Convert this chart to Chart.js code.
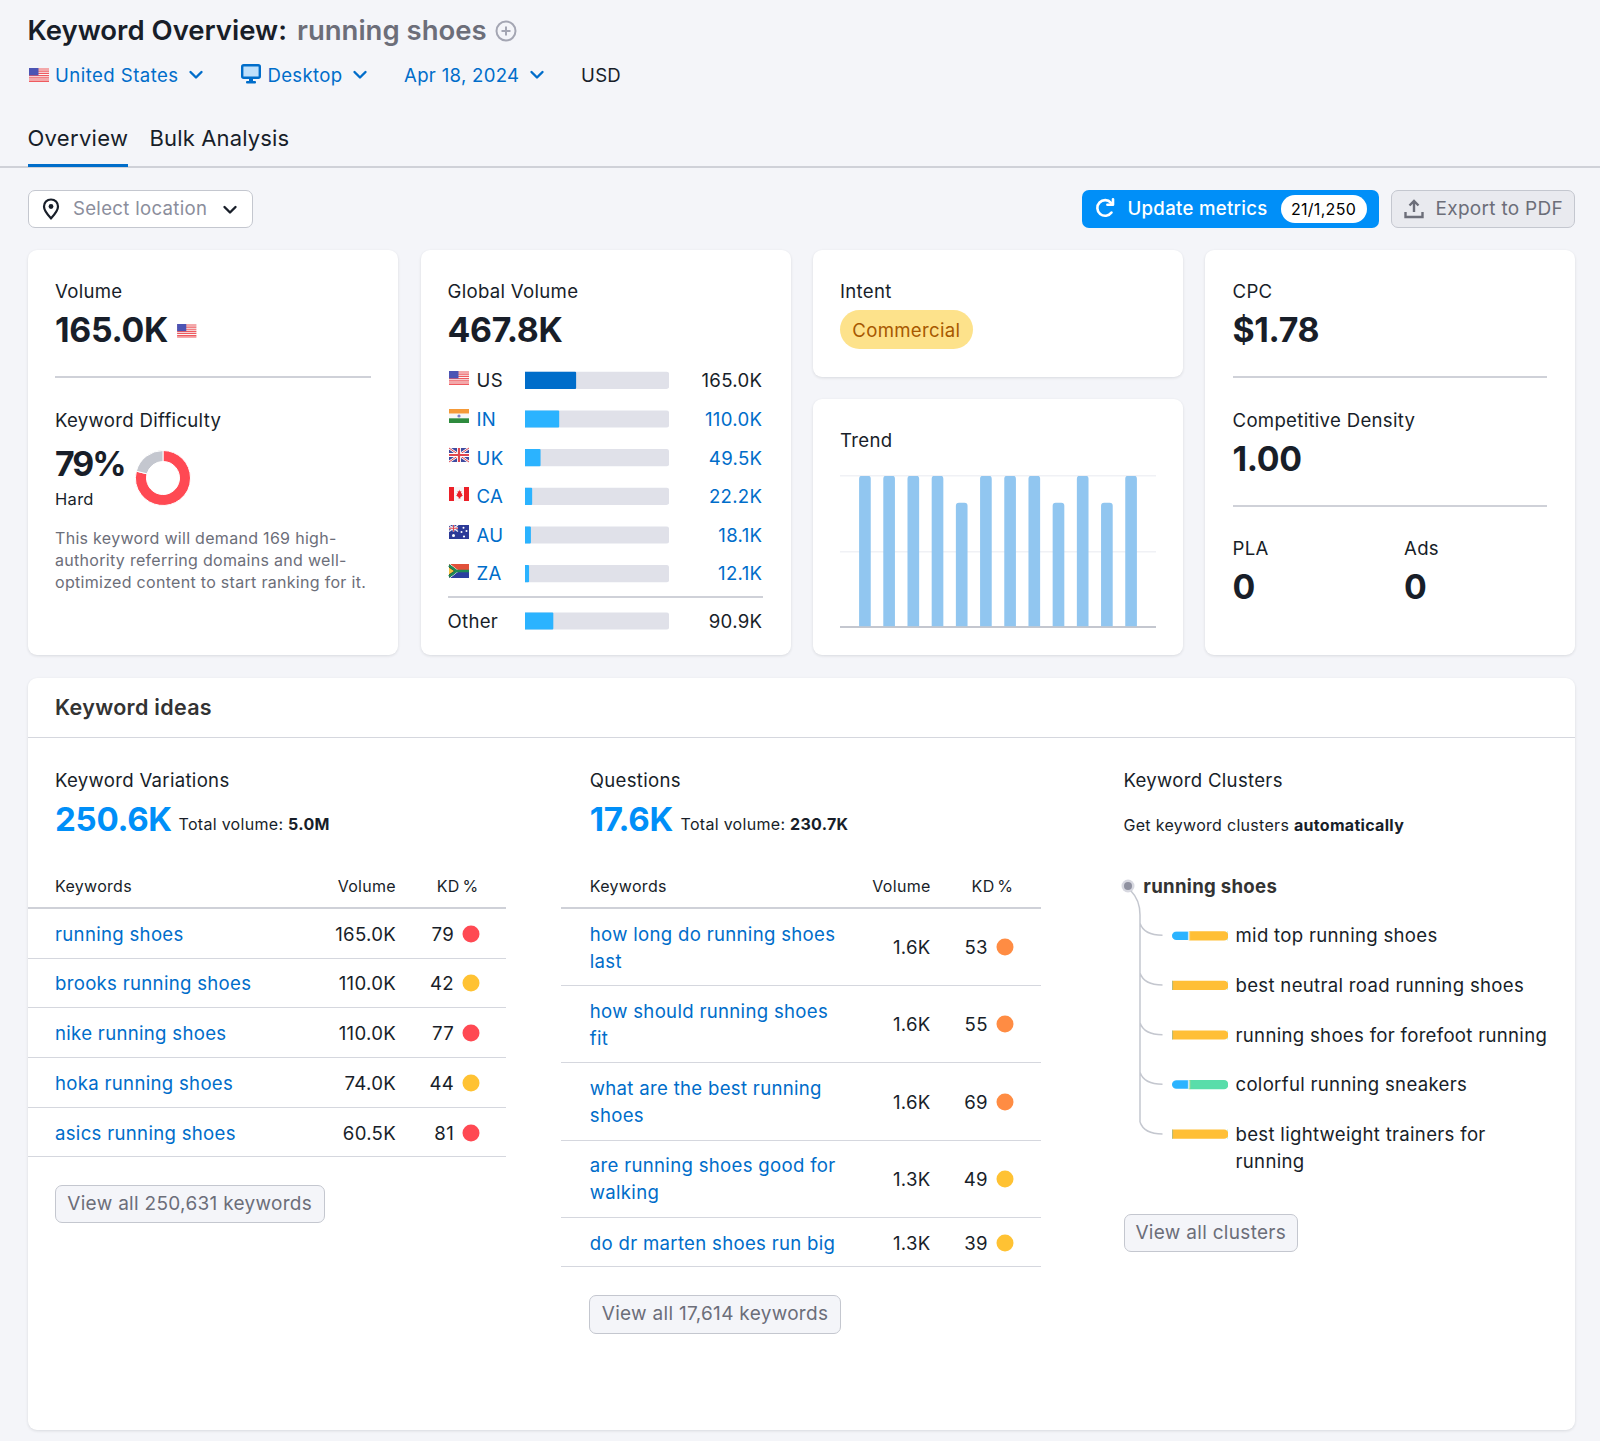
<!DOCTYPE html>
<html>
<head>
<meta charset="utf-8">
<title>Keyword Overview</title>
<script src="https://cdn.jsdelivr.net/npm/chart.js@4/dist/chart.umd.min.js"></script>
<style>
  html, body { margin: 0; padding: 0; }
  body {
    position: relative; width: 1600px; height: 1441px; overflow: hidden;
    background: #f4f5f9; color: #181e29;
    font-family: Inter, "Noto Sans", sans-serif; font-size: 18.6px; letter-spacing: 0.3px;
  }
  .t { position: absolute; line-height: 1; white-space: nowrap; transform: translateY(-50%); }
  .r { transform: translate(-100%, -50%); }
  .c { transform: translate(-50%, -50%); }
  .link { color: #006dca; }
  .muted { color: #6c6e79; }
  .bold { font-weight: 700; }
  .small { font-size: 16px; }
  .num { font-size: 33.8px; font-weight: 700; letter-spacing: -0.3px; }
  .big { font-size: 33.1px; color: #008ff8; }
  .note { font-size: 16px; }
  .btn-text { font-size: 19px; }
  .box { position: absolute; box-sizing: border-box; }
  .card { background: #fff; border-radius: 9px; box-shadow: 0 1px 3px rgba(24, 30, 41, 0.12); }
  .line { position: absolute; height: 2px; background: #cfd1d8; }
  .soft { height: 1px; background: #d5d7de; }
  .btn { background: #f4f5f9; border: 1.5px solid #c4c7cf; border-radius: 7px; }
  .dot { position: absolute; width: 17px; height: 17px; border-radius: 50%; transform: translate(-50%, -50%); }
  svg.icon { position: absolute; overflow: visible; }
  canvas { position: absolute; display: block; }
</style>
</head>
<body>
<script>
  // Global volume
  const countryCodes = ["US", "IN", "UK", "CA", "AU", "ZA"];
  const countryVolumes = [165.0, 110.0, 49.5, 22.2, 18.1, 12.1];
  const countryLabels = ["165.0K", "110.0K", "49.5K", "22.2K", "18.1K", "12.1K"];
  const otherVolume = 90.9;
  const otherLabel = "90.9K";
  const globalTotal = 467.8;

  // Keyword difficulty
  const difficultyValues = [79, 21];

  // Trend, normalised to the peak month
  const trendValues = [1, 1, 1, 1, 0.82, 1, 1, 1, 0.82, 1, 0.82, 1];

  // Keyword variations table
  const variationKeywords = ["running shoes", "brooks running shoes", "nike running shoes", "hoka running shoes", "asics running shoes"];
  const variationVolumes = ["165.0K", "110.0K", "110.0K", "74.0K", "60.5K"];
  const variationKd = [79, 42, 77, 44, 81];

  // Questions table
  const questionKeywords = [
    ["how long do running shoes", "last"],
    ["how should running shoes", "fit"],
    ["what are the best running", "shoes"],
    ["are running shoes good for", "walking"],
    ["do dr marten shoes run big"],
  ];
  const questionVolumes = ["1.6K", "1.6K", "1.6K", "1.3K", "1.3K"];
  const questionKd = [53, 55, 69, 49, 39];

  // Keyword clusters, share of each intent in percent
  const clusterNames = [
    ["mid top running shoes"],
    ["best neutral road running shoes"],
    ["running shoes for forefoot running"],
    ["colorful running sneakers"],
    ["best lightweight trainers for", "running"],
  ];
  const clusterInformational = [31, 0, 0, 31, 0];
  const clusterCommercial = [69, 100, 100, 0, 100];
  const clusterNavigational = [0, 0, 0, 69, 0];

  const LIGHT_BLUE = "#2bb3ff";
  const TRACK = "#e0e1e9";
  const GRID_DARK = "#c4c7cf";

  function put(x, y, text, cls) {
    const el = document.createElement("div");
    el.className = "t " + (cls || "");
    el.style.left = x + "px";
    el.style.top = y + "px";
    el.innerHTML = text;
    document.body.appendChild(el);
    return el;
  }

  function box(x, y, w, h, cls) {
    const el = document.createElement("div");
    el.className = "box " + cls;
    el.style.cssText = `left:${x}px;top:${y}px;width:${w}px;height:${h}px`;
    document.body.appendChild(el);
    return el;
  }

  function rule(x1, x2, y, cls) {
    const el = document.createElement("div");
    el.className = "line " + (cls || "");
    el.style.cssText = `left:${x1}px;top:${Math.round(y)}px;width:${x2 - x1}px`;
    document.body.appendChild(el);
  }

  function icon(x, y, w, h, viewBox, body) {
    document.body.insertAdjacentHTML(
      "beforeend",
      `<svg class="icon" style="left:${x}px;top:${y}px" width="${w}" height="${h}" viewBox="${viewBox}">${body}</svg>`
    );
  }

  function chevron(x, y, color) {
    icon(x, y - 5, 14, 10, "0 0 14 10", `<path d="M1.5 2 L7 7.5 L12.5 2" fill="none" stroke="${color}" stroke-width="2.4" stroke-linecap="round" stroke-linejoin="round"/>`);
  }

  const flagArt = {
    US: `<rect width="20" height="14" fill="#f7f7f7"/><path d="M0 1h20M0 3.2h20M0 5.4h20M0 7.6h20M0 9.8h20M0 12h20" stroke="#ef5a5f" stroke-width="1.2"/><rect y="13" width="20" height="1" fill="#ef5a5f"/><rect width="9.5" height="7.4" fill="#4c54b4"/>`,
    IN: `<rect width="20" height="4.7" fill="#f59a38"/><rect y="4.7" width="20" height="4.6" fill="#f7f7f7"/><rect y="9.3" width="20" height="4.7" fill="#2e8b3e"/><circle cx="10" cy="7" r="1.6" fill="#7a80c8"/>`,
    UK: `<rect width="20" height="14" fill="#3f4aa0"/><path d="M0 0L20 14M20 0L0 14" stroke="#fff" stroke-width="2.6"/><path d="M0 0L20 14M20 0L0 14" stroke="#e0464e" stroke-width="1"/><path d="M10 0V14M0 7H20" stroke="#fff" stroke-width="4"/><path d="M10 0V14M0 7H20" stroke="#e0464e" stroke-width="2.2"/>`,
    CA: `<rect width="20" height="14" fill="#f7f7f7"/><rect width="5" height="14" fill="#ec2028"/><rect x="15" width="5" height="14" fill="#ec2028"/><path d="M10 2.5l1 2 1.4-.5-.5 2.6 1.4-.4-.4 1.6 1 .6-2.6 1.8.2 1.2H9.5l.2-1.2-2.6-1.8 1-.6-.4-1.6 1.4.4-.5-2.6 1.4.5z" fill="#ec2028"/>`,
    AU: `<rect width="20" height="14" fill="#2c3a98"/><path d="M0 0L9 6.5M9 0L0 6.5" stroke="#f3f3f3" stroke-width="1.4"/><path d="M4.5 0V6.5M0 3.25H9" stroke="#fff" stroke-width="1.8"/><path d="M4.5 0V6.5M0 3.25H9" stroke="#e0464e" stroke-width="1"/><circle cx="4.5" cy="10.5" r="1.5" fill="#fff"/><circle cx="14.5" cy="2.8" r="1" fill="#fff"/><circle cx="17.5" cy="6" r="1" fill="#fff"/><circle cx="12.5" cy="7" r="1" fill="#fff"/><circle cx="15" cy="11.5" r="1.1" fill="#fff"/>`,
    ZA: `<rect width="20" height="7" fill="#e1503a"/><rect y="7" width="20" height="7" fill="#2b3fa0"/><path d="M0 0L9 7L0 14Z" fill="#17181c"/><path d="M0 -0.5L9.5 7H20" fill="none" stroke="#fff" stroke-width="1"/><path d="M0 14.5L9.5 7" stroke="#fff" stroke-width="1"/><path d="M0 1.5L7.5 7L0 12.5M7.5 7H20" fill="none" stroke="#1e8a55" stroke-width="2.6"/><path d="M0 3.5L5 7L0 10.5Z" fill="#f6c545"/>`,
  };

  function flag(code, x, y, w, h) {
    icon(x, y, w, h, "0 0 20 14", flagArt[code]);
  }

  function kdColor(kd) {
    if (kd >= 70) return "#ff4953";
    if (kd >= 50) return "#ff8c43";
    return "#ffc233";
  }

  // Header
  put(27.5, 30.6, "Keyword Overview:").style.cssText += ";font-size:27.5px;font-weight:600;letter-spacing:0";
  put(297, 30.6, "running shoes").style.cssText += ";font-size:27.5px;font-weight:600;letter-spacing:0;color:#6c6e79";
  icon(495, 20, 22, 22, "0 0 22 22", `<circle cx="11" cy="11" r="9.5" fill="none" stroke="#a4a6b3" stroke-width="2"/><path d="M11 6.5V15.5M6.5 11H15.5" stroke="#a4a6b3" stroke-width="2"/>`);

  flag("US", 29, 67.5, 20, 14);
  put(55, 75, "United States", "link").style.letterSpacing = "0.45px";
  chevron(189, 75, "#006dca");
  icon(241, 64, 20, 20, "0 0 20 20", `<rect x="1.2" y="1.2" width="17.6" height="12.6" rx="1.5" fill="#bfe0fb" stroke="#006dca" stroke-width="2.4"/><rect x="8" y="14" width="4" height="3" fill="#006dca"/><rect x="5" y="17" width="10" height="2.4" rx="1" fill="#006dca"/>`);
  put(267.5, 75, "Desktop", "link");
  chevron(353, 75, "#006dca");
  put(404, 75, "Apr 18, 2024", "link");
  chevron(530, 75, "#006dca");
  put(581, 75, "USD");

  put(27.5, 138, "Overview").style.fontSize = "22px";
  put(149.5, 138, "Bulk Analysis").style.cssText += ";font-size:22px;letter-spacing:0.15px";
  rule(0, 1600, 166);
  box(28, 163.5, 99.5, 3.5, "").style.background = "#006dca";

  // Toolbar
  box(28, 190, 224.5, 37.7, "btn").style.background = "#fff";
  icon(42, 198, 18, 22, "0 0 18 22", `<path d="M9 1.5C4.8 1.5 2 4.6 2 8.5C2 13 6.5 17.5 9 20.3C11.5 17.5 16 13 16 8.5C16 4.6 13.2 1.5 9 1.5Z" fill="none" stroke="#181e29" stroke-width="2.2"/><circle cx="9" cy="8.5" r="2.4" fill="#181e29"/>`);
  put(73, 208, "Select location").style.color = "#8b8e9c";
  chevron(223, 209.5, "#181e29");

  box(1082, 189.5, 296.5, 38, "").style.cssText += ";background:#008ff8;border-radius:7px";
  icon(1095, 198, 21, 21, "0 0 21 21", `<path d="M16.5 14.5A7.8 7.8 0 1 1 16 4.8" fill="none" stroke="#fff" stroke-width="2.6" stroke-linecap="round"/><path d="M18 1.2V6.8H12.4" fill="none" stroke="#fff" stroke-width="2.6" stroke-linecap="round" stroke-linejoin="round"/>`);
  put(1127.5, 208, "Update metrics").style.cssText += ";color:#fff;font-weight:500";
  box(1280.5, 195, 86, 27.7, "").style.cssText += ";background:#fff;border-radius:14px";
  put(1323.5, 208.5, "21/1,250", "c small").style.cssText += ";color:#000";
  box(1390.5, 189.5, 184, 38, "btn").style.background = "#e9eaef";
  icon(1404, 198, 20, 21, "0 0 20 21", `<path d="M10 14V3M5.5 7.5L10 3L14.5 7.5" fill="none" stroke="#6c6e79" stroke-width="2.4"/><path d="M1.5 14V19H18.5V14" fill="none" stroke="#6c6e79" stroke-width="2.4"/>`);
  put(1435.5, 208, "Export to PDF", "muted btn-text");

  // Metric cards
  box(28, 250, 370, 405, "card");
  box(420.5, 250, 370, 405, "card");
  box(812.5, 250, 370, 126.5, "card");
  box(812.5, 399, 370, 256, "card");
  box(1205, 250, 369.5, 405, "card");

  put(55, 291, "Volume");
  put(55, 330, "165.0K", "num");
  flag("US", 176.5, 324, 19.5, 13.5);
  rule(55, 370.5, 376);
  put(55, 419.5, "Keyword Difficulty");
  put(55, 463.5, "79%", "num").style.letterSpacing = "-2px";
  put(55, 499, "Hard").style.fontSize = "16.5px";
  put(55, 538, "This keyword will demand 169 high-", "muted note");
  put(55, 560, "authority referring domains and well-", "muted note");
  put(55, 581.5, "optimized content to start ranking for it.", "muted note");

  put(447.5, 291, "Global Volume");
  put(447.5, 330, "467.8K", "num");
  countryCodes.forEach((code, i) => {
    const y = 380.3 + i * 38.6;
    flag(code, 449, y - 9.5, 20, 14);
    put(476.5, y, code, i === 0 ? "" : "link");
    put(762.3, y, countryLabels[i], i === 0 ? "r" : "r link");
  });
  rule(448, 762.5, 596);
  put(447.5, 621, "Other");
  put(762.3, 621, otherLabel, "r");

  put(840, 291, "Intent");
  box(840, 310, 132.5, 39, "").style.cssText += ";background:#fde28b;border-radius:20px";
  put(906.3, 330, "Commercial", "c").style.color = "#a75800";
  put(840, 440, "Trend");

  put(1232.5, 291, "CPC");
  put(1232.5, 330, "$1.78", "num");
  rule(1232.5, 1547, 376);
  put(1232.5, 419.5, "Competitive Density");
  put(1232.5, 458.8, "1.00", "num");
  rule(1232.5, 1547, 504.5);
  put(1232.5, 548, "PLA");
  put(1404, 548, "Ads");
  put(1232.5, 586.5, "0", "num");
  put(1404, 586.5, "0", "num");

  // Keyword ideas panel
  box(28, 677.5, 1546.5, 752, "card");
  put(55, 707.5, "Keyword ideas").style.cssText += ";font-size:21.5px;font-weight:600;color:#333";
  rule(28, 1574.5, 737, "soft");

  put(55, 779.5, "Keyword Variations");
  put(55, 819.5, "250.6K", "num big");
  put(178.5, 823.5, "Total volume: <b>5.0M</b>", "small");
  put(55, 885.7, "Keywords", "small");
  put(396, 885.7, "Volume", "r small");
  put(478.5, 885.7, "KD %", "r small").style.wordSpacing = "-2px";
  rule(28, 506, 907);

  variationKeywords.forEach((kw, i) => {
    const y = 933.7 + i * 49.7;
    put(55, y, kw, "link");
    put(396, y, variationVolumes[i], "r");
    put(454, y, variationKd[i], "r");
    box(470.5, y, 17, 17, "dot").style.background = kdColor(variationKd[i]);
    rule(28, 506, y + 23.8, "soft");
  });
  box(55, 1184.7, 269.5, 38.7, "btn");
  put(189.7, 1203, "View all 250,631 keywords", "c muted btn-text");

  put(589.8, 779.5, "Questions");
  put(589.8, 819.5, "17.6K", "num big");
  put(680.5, 823.5, "Total volume: <b>230.7K</b>", "small");
  put(589.8, 885.7, "Keywords", "small");
  put(930.6, 885.7, "Volume", "r small");
  put(1013.3, 885.7, "KD %", "r small").style.wordSpacing = "-2px";
  rule(561, 1041, 907);

  const questionRuleY = [985, 1062, 1139.5, 1216.5, 1265.5];
  const questionCenterY = [947.3, 1024.3, 1101.8, 1178.8, 1242.5];
  questionKeywords.forEach((lines, i) => {
    const y = questionCenterY[i];
    lines.forEach((line, n) => {
      put(589.8, y + (n - (lines.length - 1) / 2) * 27, line, "link");
    });
    put(930.6, y, questionVolumes[i], "r");
    put(987.8, y, questionKd[i], "r");
    box(1005, y, 17, 17, "dot").style.background = kdColor(questionKd[i]);
    rule(561, 1041, questionRuleY[i], "soft");
  });
  box(589.3, 1295, 251.5, 38.7, "btn");
  put(715, 1313.3, "View all 17,614 keywords", "c muted btn-text");

  put(1123.5, 779.5, "Keyword Clusters");
  put(1123.5, 824.5, "Get keyword clusters <b>automatically</b>", "small");
  box(1128, 885.7, 13, 13, "dot").style.background = "#d7d8e0";
  box(1128, 885.7, 8, 8, "dot").style.background = "#8f91a0";
  put(1143.3, 886, "running shoes", "bold").style.color = "#333";

  let treePath = "M1131 891 Q1140 900 1140 915 V1122";
  clusterNames.forEach((lines, i) => {
    const y = 935.3 + i * 49.67;
    lines.forEach((line, n) => put(1235.5, y + n * 27.5, line));
    treePath += ` M1140 ${y - 12} Q1144 ${y} 1162.5 ${y}`;
  });
  icon(0, 0, 1600, 1441, "0 0 1600 1441", `<path d="${treePath}" fill="none" stroke="#c4c7cf" stroke-width="1.5"/>`);
  box(1124, 1214.3, 173.7, 37.5, "btn");
  put(1210.8, 1232.3, "View all clusters", "c muted btn-text");

  // Charts
  function addCanvas(x, y, w, h) {
    const canvas = document.createElement("canvas");
    canvas.width = w;
    canvas.height = h;
    canvas.style.left = x + "px";
    canvas.style.top = y + "px";
    canvas.style.width = w + "px";
    canvas.style.height = h + "px";
    document.body.appendChild(canvas);
    return canvas;
  }

  const bareOptions = {
    responsive: false,
    animation: false,
    events: [],
    layout: { padding: 0 },
    plugins: { legend: { display: false }, tooltip: { enabled: false } },
  };

  function volumeBars(canvas, labels, values, colors) {
    new Chart(canvas, {
      type: "bar",
      data: {
        labels: labels,
        datasets: [
          { data: values, backgroundColor: colors, grouped: false, barThickness: 16.5, borderRadius: 1 },
          { data: labels.map(() => globalTotal), backgroundColor: TRACK, grouped: false, barThickness: 16.5, borderRadius: 3 },
        ],
      },
      options: {
        ...bareOptions,
        indexAxis: "y",
        scales: {
          x: { display: false, min: 0, max: globalTotal },
          y: { display: false },
        },
      },
    });
  }

  volumeBars(
    addCanvas(525, 361, 144, 232),
    countryCodes,
    countryVolumes,
    countryCodes.map((c, i) => (i === 0 ? "#006dca" : LIGHT_BLUE))
  );
  volumeBars(addCanvas(525, 602, 144, 38), ["Other"], [otherVolume], [LIGHT_BLUE]);

  new Chart(addCanvas(135, 449.5, 56, 56), {
    type: "doughnut",
    data: {
      labels: ["Difficulty", "Remaining"],
      datasets: [{ data: difficultyValues, backgroundColor: ["#ff4953", "#c4c7cf"], borderColor: "#fff", borderWidth: 1 }],
    },
    options: { ...bareOptions, cutout: "60%" },
  });

  new Chart(addCanvas(840, 472, 316, 158), {
    type: "bar",
    data: {
      datasets: [
        {
          data: trendValues.map((v, i) => ({ x: i, y: v })),
          backgroundColor: "#91c6f0",
          barThickness: 11,
          borderRadius: 3,
          borderSkipped: "bottom",
        },
      ],
    },
    options: {
      ...bareOptions,
      layout: { padding: { top: 4, bottom: 3 } },
      scales: {
        x: { type: "linear", display: false, offset: false, min: -1.03, max: 12.03 },
        y: {
          min: 0,
          max: 1,
          ticks: { display: false, stepSize: 0.5 },
          border: { display: false },
          grid: {
            drawTicks: false,
            lineWidth: (ctx) => (ctx.tick.value === 0 ? 2 : 1.5),
            color: (ctx) => (ctx.tick.value === 0 ? GRID_DARK : "#f0f1f5"),
          },
        },
      },
    },
  });

  function clusterCorners(values, side) {
    // round only the free ends of the pill
    return (ctx) => {
      const r = 4.5;
      const left = side === "first" || clusterInformational[ctx.dataIndex] === 0 ? r : 0;
      const right = side === "last" || values[ctx.dataIndex] === 100 ? r : 0;
      return { topLeft: left, bottomLeft: left, topRight: right, bottomRight: right };
    };
  }

  new Chart(addCanvas(1172, 910.5, 55.5, 248), {
    type: "bar",
    data: {
      labels: clusterNames.map((lines) => lines.join(" ")),
      datasets: [
        { data: clusterInformational, backgroundColor: LIGHT_BLUE, barThickness: 8.5, borderColor: "#fff", borderWidth: { right: 1.5 }, borderSkipped: false, borderRadius: clusterCorners(clusterInformational, "first") },
        { data: clusterCommercial, backgroundColor: "#ffbf36", barThickness: 8.5, borderRadius: clusterCorners(clusterCommercial, "last") },
        { data: clusterNavigational, backgroundColor: "#59ddaa", barThickness: 8.5, borderRadius: clusterCorners(clusterNavigational, "last") },
      ],
    },
    options: {
      ...bareOptions,
      indexAxis: "y",
      scales: {
        x: { display: false, stacked: true, min: 0, max: 100 },
        y: { display: false, stacked: true },
      },
    },
  });
</script>
</body>
</html>
